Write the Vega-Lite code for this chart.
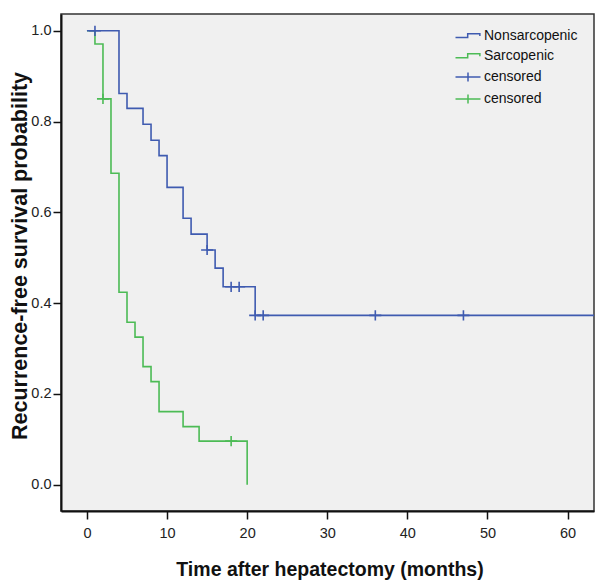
{
  "$schema": "https://vega.github.io/schema/vega-lite/v6.json",
  "width": 533,
  "height": 497,
  "autosize": {"type": "none"},
  "padding": {"left": 61, "top": 14, "right": 6, "bottom": 74},
  "background": "white",
  "config": {
    "view": {"fill": "#f0f0f0", "stroke": "#333333", "strokeWidth": 1.5},
    "font": "Liberation Sans",
    "axis": {
      "grid": false,
      "domainColor": "#111111",
      "domainWidth": 2,
      "tickColor": "#111111",
      "tickWidth": 1.5,
      "tickSize": 8,
      "labelFont": "Liberation Sans",
      "labelFontSize": 14.5,
      "labelColor": "#222222",
      "titleFont": "Liberation Sans",
      "titleFontWeight": "bold",
      "titleColor": "#111111"
    }
  },
  "data": {
    "values": [
      {"series": "Nonsarcopenic", "kind": "step", "t": 0, "s": 1.0},
      {"series": "Nonsarcopenic", "kind": "step", "t": 4, "s": 0.862},
      {"series": "Nonsarcopenic", "kind": "step", "t": 5, "s": 0.829},
      {"series": "Nonsarcopenic", "kind": "step", "t": 7, "s": 0.794},
      {"series": "Nonsarcopenic", "kind": "step", "t": 8, "s": 0.759},
      {"series": "Nonsarcopenic", "kind": "step", "t": 9, "s": 0.725},
      {"series": "Nonsarcopenic", "kind": "step", "t": 10, "s": 0.655},
      {"series": "Nonsarcopenic", "kind": "step", "t": 12, "s": 0.587},
      {"series": "Nonsarcopenic", "kind": "step", "t": 13, "s": 0.552},
      {"series": "Nonsarcopenic", "kind": "step", "t": 15, "s": 0.517},
      {"series": "Nonsarcopenic", "kind": "step", "t": 16, "s": 0.477},
      {"series": "Nonsarcopenic", "kind": "step", "t": 17, "s": 0.436},
      {"series": "Nonsarcopenic", "kind": "step", "t": 21, "s": 0.373},
      {"series": "Nonsarcopenic", "kind": "step", "t": 64, "s": 0.373},
      {"series": "Sarcopenic", "kind": "step", "t": 0, "s": 1.0},
      {"series": "Sarcopenic", "kind": "step", "t": 1, "s": 0.971},
      {"series": "Sarcopenic", "kind": "step", "t": 2, "s": 0.85},
      {"series": "Sarcopenic", "kind": "step", "t": 3, "s": 0.686},
      {"series": "Sarcopenic", "kind": "step", "t": 4, "s": 0.424},
      {"series": "Sarcopenic", "kind": "step", "t": 5, "s": 0.358},
      {"series": "Sarcopenic", "kind": "step", "t": 6, "s": 0.325},
      {"series": "Sarcopenic", "kind": "step", "t": 7, "s": 0.26},
      {"series": "Sarcopenic", "kind": "step", "t": 8, "s": 0.227},
      {"series": "Sarcopenic", "kind": "step", "t": 9, "s": 0.161},
      {"series": "Sarcopenic", "kind": "step", "t": 12, "s": 0.128},
      {"series": "Sarcopenic", "kind": "step", "t": 14, "s": 0.096},
      {"series": "Sarcopenic", "kind": "step", "t": 20, "s": 0.0},
      {"series": "censored (Nonsarcopenic)", "kind": "censor", "t": 1, "s": 1.0},
      {"series": "censored (Nonsarcopenic)", "kind": "censor", "t": 15, "s": 0.517},
      {"series": "censored (Nonsarcopenic)", "kind": "censor", "t": 18, "s": 0.436},
      {"series": "censored (Nonsarcopenic)", "kind": "censor", "t": 19, "s": 0.436},
      {"series": "censored (Nonsarcopenic)", "kind": "censor", "t": 21, "s": 0.373},
      {"series": "censored (Nonsarcopenic)", "kind": "censor", "t": 22, "s": 0.373},
      {"series": "censored (Nonsarcopenic)", "kind": "censor", "t": 36, "s": 0.373},
      {"series": "censored (Nonsarcopenic)", "kind": "censor", "t": 47, "s": 0.373},
      {"series": "censored (Sarcopenic)", "kind": "censor", "t": 2, "s": 0.85},
      {"series": "censored (Sarcopenic)", "kind": "censor", "t": 18, "s": 0.096}
    ]
  },
  "encoding": {
    "x": {
      "field": "t",
      "type": "quantitative",
      "scale": {"domain": [-3.24, 63.3], "nice": false, "zero": false},
      "axis": {
        "values": [0, 10, 20, 30, 40, 50, 60],
        "title": "Time after hepatectomy (months)",
        "titleFontSize": 19.5,
        "titleBaseline": "alphabetic",
        "titleY": 64,
        "titleX": 268.5,
        "labelPadding": 7
      }
    },
    "y": {
      "field": "s",
      "type": "quantitative",
      "scale": {"domain": [-0.058, 1.037], "nice": false, "zero": false},
      "axis": {
        "values": [0, 0.2, 0.4, 0.6, 0.8, 1.0],
        "format": ".1f",
        "title": "Recurrence-free survival probability",
        "titleFontSize": 21.5,
        "titleBaseline": "alphabetic",
        "titleX": -34.3,
        "titleY": 241.5,
        "labelPadding": 2
      }
    },
    "color": {
      "field": "series",
      "type": "nominal",
      "scale": {
        "domain": ["Nonsarcopenic", "Sarcopenic", "censored (Nonsarcopenic)", "censored (Sarcopenic)"],
        "range": ["#3f5bb0", "#4cbb55", "#3f5bb0", "#4cbb55"]
      },
      "legend": {
        "title": null,
        "orient": "none",
        "legendX": 400,
        "legendY": 14.5,
        "padding": 0,
        "symbolSize": 156,
        "labelFontSize": 14,
        "labelFont": "Liberation Sans",
        "labelColor": "#111111",
        "labelOffset": 9,
        "rowPadding": 6.2,
        "labelExpr": "indexof(datum.label, 'censored') == 0 ? 'censored' : datum.label",
        "encode": {
          "symbols": {
            "update": {
              "shape": {"signal": "indexof(datum.value, 'censored') == 0 ? 'M-2,0L2,0M0,-0.72L0,0.72' : 'M-2,0.34L-0.05,0.34L-0.05,-0.3L1.9,-0.3L1.9,0.1'"},
              "fill": {"value": "transparent"},
              "strokeWidth": {"value": 1.5},
              "opacity": {"value": 1}
            }
          }
        }
      }
    }
  },
  "layer": [
    {
      "transform": [{"filter": "datum.series == 'Sarcopenic'"}],
      "mark": {"type": "line", "interpolate": "step-after", "strokeWidth": 1.6, "clip": true}
    },
    {
      "transform": [{"filter": "datum.series == 'Nonsarcopenic'"}],
      "mark": {"type": "line", "interpolate": "step-after", "strokeWidth": 1.6, "clip": true}
    },
    {
      "transform": [{"filter": "datum.kind == 'censor'"}],
      "mark": {"type": "point", "shape": "M-1,0L1,0M0,-0.85L0,0.85", "size": 144, "filled": false, "strokeWidth": 1.6, "opacity": 1}
    }
  ]
}
